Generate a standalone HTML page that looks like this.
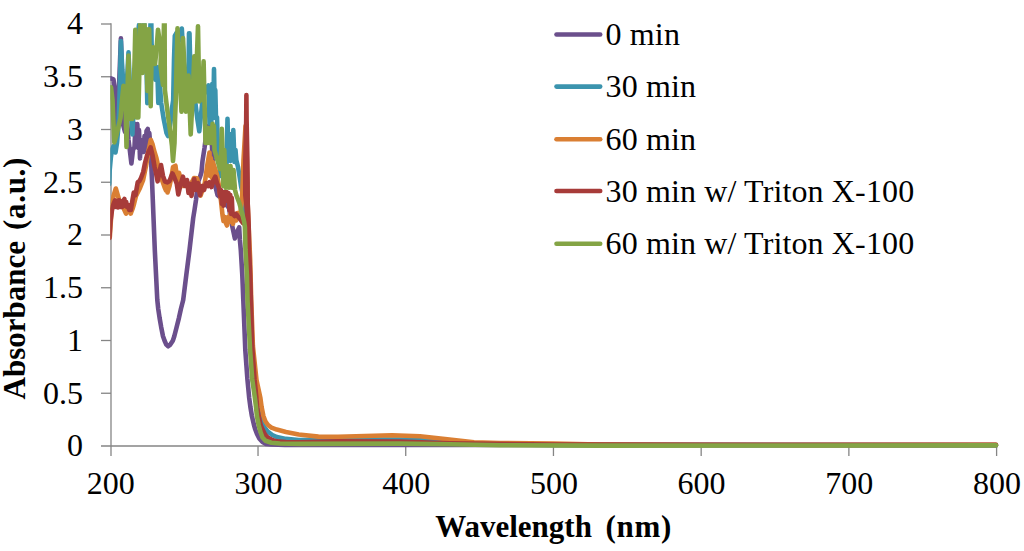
<!DOCTYPE html>
<html><head><meta charset="utf-8"><title>Absorbance vs Wavelength</title>
<style>
html,body{margin:0;padding:0;background:#fff;}
body{width:1024px;height:551px;overflow:hidden;position:relative;font-family:"Liberation Serif",serif;}
svg{position:absolute;left:0;top:0;display:block;}
text{font-family:"Liberation Serif",serif;fill:#000;}
.tk{font-size:32px;}
.ttl{font-size:31px;font-weight:bold;}
.ln{fill:none;stroke-width:4.6;stroke-linejoin:round;stroke-linecap:round;}
</style></head><body>
<svg width="1024" height="551" viewBox="0 0 1024 551">
<defs><clipPath id="plot"><rect x="110.3" y="23.3" width="900" height="430"/></clipPath></defs>
<rect x="0" y="0" width="1024" height="551" fill="#ffffff"/>

<g stroke="#858585" stroke-width="1.3" fill="none">
<line x1="111.0" y1="23.3" x2="111.0" y2="456.0"/>
<line x1="101.0" y1="446.0" x2="997.2" y2="446.0"/>
<line x1="101.0" y1="24.00" x2="111.0" y2="24.00"/>
<line x1="101.0" y1="76.75" x2="111.0" y2="76.75"/>
<line x1="101.0" y1="129.50" x2="111.0" y2="129.50"/>
<line x1="101.0" y1="182.25" x2="111.0" y2="182.25"/>
<line x1="101.0" y1="235.00" x2="111.0" y2="235.00"/>
<line x1="101.0" y1="287.75" x2="111.0" y2="287.75"/>
<line x1="101.0" y1="340.50" x2="111.0" y2="340.50"/>
<line x1="101.0" y1="393.25" x2="111.0" y2="393.25"/>
<line x1="258.02" y1="446.0" x2="258.02" y2="456.0"/>
<line x1="405.73" y1="446.0" x2="405.73" y2="456.0"/>
<line x1="553.45" y1="446.0" x2="553.45" y2="456.0"/>
<line x1="701.17" y1="446.0" x2="701.17" y2="456.0"/>
<line x1="848.88" y1="446.0" x2="848.88" y2="456.0"/>
<line x1="996.60" y1="446.0" x2="996.60" y2="456.0"/>
</g>
<g clip-path="url(#plot)">
<path class="ln" stroke="#6b4f8c" d="M111.00,78.50 L113.50,79.50 L115.00,90.00 L116.50,126.00 L118.50,100.00 L120.90,38.30 L122.30,80.00 L123.30,125.50 L125.00,132.00 L127.00,120.00 L128.50,140.00 L129.80,150.00 L131.40,163.50 L133.00,150.00 L134.50,147.00 L135.50,124.00 L136.50,145.00 L137.30,124.00 L138.30,148.00 L139.00,130.00 L140.00,158.40 L140.80,140.00 L141.60,146.00 L142.30,152.00 L143.00,144.00 L143.80,152.00 L144.50,136.00 L145.50,150.00 L146.50,131.00 L147.80,129.00 L148.50,150.00 L149.30,133.00 L150.30,145.00 L151.00,160.00 L152.00,180.00 L152.80,200.00 L154.80,250.00 L157.30,300.00 L158.25,309.00 L159.60,318.00 L161.20,327.20 L163.00,336.30 L164.60,340.80 L166.30,344.60 L168.20,346.30 L170.30,344.60 L172.80,340.80 L174.30,336.30 L176.60,327.20 L178.90,318.10 L180.90,309.00 L183.20,300.00 L186.30,275.00 L189.50,250.00 L193.20,218.00 L194.50,210.00 L196.00,200.00 L196.80,193.00 L198.50,181.00 L200.00,177.00 L201.50,172.00 L202.50,161.00 L204.50,148.00 L205.50,140.00 L206.50,128.00 L208.50,126.00 L210.50,130.00 L211.80,142.00 L212.50,158.00 L213.50,170.00 L215.00,180.00 L216.00,189.00 L217.50,195.00 L222.00,199.00 L229.00,208.00 L232.00,225.00 L234.90,238.40 L237.00,232.00 L239.20,227.40 L239.90,240.00 L240.80,250.00 L242.30,275.00 L243.30,300.00 L245.30,350.00 L247.40,379.00 L249.20,398.00 L250.40,407.00 L251.90,416.00 L254.00,425.00 L255.30,429.50 L257.00,434.00 L259.30,438.40 L262.50,442.00 L266.00,443.90 L271.40,444.50 L285.00,445.00 L400.00,445.00 L996.00,445.20"/>
<path class="ln" stroke="#3b94ae" d="M109.20,184.00 L109.70,170.00 L110.80,158.00 L112.00,150.00 L113.50,146.00 L115.50,152.50 L117.00,143.00 L118.50,125.00 L119.70,90.00 L120.90,41.00 L122.30,70.00 L124.00,90.00 L125.50,97.00 L127.00,80.00 L128.50,52.30 L130.50,100.00 L132.40,134.40 L134.50,90.00 L138.30,30.00 L139.80,20.00 L144.00,20.00 L146.30,60.00 L146.80,80.00 L147.30,103.20 L149.30,60.00 L150.80,15.00 L151.20,15.00 L151.60,45.00 L153.00,62.00 L155.30,79.70 L157.20,67.00 L158.30,103.00 L158.80,70.00 L161.20,103.00 L163.50,118.00 L166.50,133.00 L168.00,136.00 L170.50,122.00 L172.00,108.00 L173.20,100.00 L174.00,60.00 L174.80,36.00 L176.50,33.00 L179.00,40.00 L181.80,28.50 L183.30,55.00 L185.00,85.00 L187.50,88.00 L188.60,70.00 L189.00,33.20 L189.50,33.20 L190.00,55.00 L190.80,75.00 L192.00,85.00 L195.00,100.00 L197.50,120.00 L199.30,131.30 L201.00,115.00 L202.50,100.00 L205.00,90.00 L208.50,85.40 L209.50,123.50 L210.30,86.00 L211.30,122.00 L212.20,84.00 L213.20,118.00 L214.00,69.00 L214.80,112.00 L215.30,90.00 L216.00,118.00 L217.00,117.50 L218.00,150.00 L220.50,176.00 L222.00,165.00 L224.50,160.00 L226.50,165.00 L227.50,118.70 L228.50,160.00 L229.50,135.00 L230.60,161.00 L231.50,134.00 L232.30,160.00 L233.30,130.00 L234.50,162.00 L235.50,150.00 L236.30,160.00 L238.00,167.00 L239.60,176.70 L241.00,186.00 L243.00,195.00 L244.30,204.00 L246.00,230.00 L247.50,263.00 L250.00,330.00 L252.80,380.00 L255.80,398.00 L257.50,408.00 L259.50,416.00 L261.50,422.00 L264.50,427.50 L267.80,431.60 L272.30,435.00 L276.80,437.00 L286.00,438.90 L298.70,440.00 L340.00,439.60 L400.00,439.60 L430.00,440.50 L450.00,442.50 L500.00,444.50 L553.00,444.90 L996.00,445.30"/>
<path class="ln" stroke="#da7f33" d="M109.80,237.00 L111.30,214.00 L113.50,196.00 L115.80,188.50 L118.00,196.00 L120.00,203.00 L123.00,207.00 L126.00,213.60 L128.50,210.00 L130.70,213.60 L132.50,209.00 L134.00,204.00 L136.00,196.00 L140.00,188.00 L143.00,180.50 L146.00,166.00 L148.50,151.00 L150.80,139.80 L152.50,144.00 L154.00,150.30 L156.40,158.00 L158.50,167.50 L162.00,180.00 L164.50,187.00 L166.00,190.50 L166.80,186.00 L167.50,192.50 L169.50,186.00 L171.50,177.00 L173.00,167.00 L175.50,165.70 L177.00,178.00 L177.70,185.00 L179.00,172.80 L181.00,180.00 L183.00,186.00 L186.00,184.00 L189.00,186.00 L192.00,182.00 L194.00,178.00 L197.00,178.30 L199.00,186.00 L200.50,195.70 L202.50,190.00 L204.80,183.00 L207.00,167.00 L209.50,152.50 L210.00,176.00 L210.80,158.00 L212.00,178.00 L212.80,162.00 L214.50,167.00 L217.00,175.00 L219.00,186.00 L221.00,201.00 L222.50,215.00 L223.50,221.00 L224.50,217.00 L225.50,222.00 L227.00,225.50 L228.00,217.00 L229.00,222.00 L230.00,214.00 L231.00,222.00 L232.00,215.00 L233.00,224.00 L234.50,214.00 L236.00,220.50 L237.50,213.00 L239.00,218.00 L240.50,212.00 L242.00,200.00 L242.60,185.00 L243.50,160.00 L245.00,135.00 L245.50,126.00 L246.50,150.00 L247.50,200.00 L250.20,260.00 L251.20,300.00 L252.90,346.00 L256.50,380.00 L260.40,398.00 L261.60,407.00 L263.40,416.00 L265.50,421.50 L268.00,425.00 L271.40,427.60 L276.80,429.60 L286.00,432.00 L298.70,434.55 L318.40,436.60 L338.00,436.80 L365.00,436.00 L392.00,435.20 L420.00,436.20 L445.00,439.00 L474.00,442.30 L500.00,443.00 L553.00,443.60 L600.00,444.60 L700.00,445.00 L800.00,445.10 L996.00,444.80"/>
<path class="ln" stroke="#a73b39" d="M109.40,238.00 L110.40,222.00 L112.00,210.00 L113.50,204.00 L115.00,200.30 L116.00,207.00 L117.00,201.00 L118.00,207.50 L119.00,200.30 L120.00,207.00 L121.00,201.50 L122.00,207.00 L123.00,201.00 L124.40,199.00 L125.30,206.00 L126.20,202.00 L127.20,207.00 L128.30,206.50 L129.20,210.00 L130.00,205.00 L130.80,210.00 L131.40,206.50 L132.50,200.00 L133.80,192.50 L135.50,195.00 L137.70,182.30 L139.30,181.30 L141.00,178.00 L143.20,172.00 L145.00,163.00 L147.00,155.60 L148.50,152.00 L150.60,147.40 L152.50,155.00 L154.50,166.50 L156.00,173.00 L157.60,181.30 L159.50,172.00 L161.00,165.00 L163.00,176.00 L165.00,181.50 L167.40,182.40 L169.50,181.00 L171.00,177.00 L172.50,173.50 L174.50,178.00 L176.75,183.70 L178.30,194.50 L180.50,185.00 L183.00,176.70 L185.00,186.00 L187.00,180.00 L188.50,193.00 L190.00,184.00 L191.50,196.00 L193.00,186.00 L194.25,179.00 L196.00,190.00 L198.00,183.00 L200.00,195.00 L202.00,186.00 L204.00,190.00 L206.00,183.00 L208.00,186.00 L209.50,182.20 L211.50,187.00 L213.50,180.00 L215.30,176.70 L217.00,183.00 L219.00,188.00 L220.00,196.00 L221.00,190.00 L222.00,204.00 L223.00,192.00 L223.50,205.70 L224.50,192.00 L225.50,201.00 L226.50,192.00 L227.50,201.00 L228.50,193.00 L229.50,210.00 L230.30,195.00 L231.20,214.00 L231.80,198.00 L232.50,213.00 L234.50,216.00 L236.00,214.00 L237.50,216.00 L240.00,219.00 L243.00,223.00 L245.50,224.00 L247.00,215.00 L246.30,204.00 L245.30,195.00 L245.30,160.00 L245.80,140.00 L246.20,120.00 L246.40,95.10 L246.60,120.00 L247.00,140.00 L247.40,160.00 L247.60,180.00 L247.70,203.00 L248.65,225.00 L249.10,250.00 L250.20,275.00 L250.90,300.00 L252.20,346.00 L254.60,380.00 L256.40,398.00 L257.10,407.10 L258.65,416.10 L260.70,425.20 L262.70,429.80 L265.00,434.50 L267.80,437.50 L272.30,440.00 L276.80,441.40 L286.00,442.10 L298.70,442.20 L338.00,441.30 L400.00,441.60 L450.00,443.20 L553.00,444.50 L996.00,444.90"/>
<path class="ln" stroke="#84a445" d="M111.00,87.30 L112.50,100.00 L114.30,142.40 L116.50,135.00 L120.50,118.00 L122.00,100.00 L123.50,85.70 L125.30,90.00 L126.50,147.00 L127.50,90.00 L128.50,55.50 L129.50,110.00 L130.50,119.00 L131.20,82.00 L132.20,119.00 L133.30,100.00 L134.60,60.00 L135.30,29.70 L136.00,60.00 L136.60,117.50 L137.30,60.00 L138.30,117.50 L139.60,60.00 L140.40,20.00 L141.50,20.00 L142.50,73.00 L143.30,20.00 L144.40,20.00 L145.30,60.00 L146.20,29.30 L147.40,91.00 L148.50,29.30 L149.20,29.30 L150.70,106.30 L151.50,60.00 L153.30,47.30 L155.00,64.00 L156.50,50.00 L158.00,29.70 L159.50,40.00 L161.30,43.00 L160.50,66.00 L163.00,85.00 L163.60,41.00 L164.20,15.00 L164.60,15.00 L164.70,60.00 L164.90,90.00 L166.20,101.00 L168.30,118.00 L170.60,135.00 L172.00,146.00 L173.00,161.00 L174.50,143.00 L175.00,120.00 L175.80,100.00 L176.70,60.00 L177.50,28.20 L179.50,70.00 L181.50,111.70 L182.30,70.00 L183.00,38.00 L185.00,80.00 L186.00,111.70 L187.50,90.00 L188.50,75.60 L190.70,134.40 L192.50,100.00 L194.25,56.30 L195.30,101.50 L196.80,60.00 L198.00,26.20 L199.30,101.50 L200.50,70.00 L201.80,100.00 L203.60,61.40 L204.50,100.00 L205.50,143.00 L206.50,128.00 L207.50,143.00 L208.50,128.00 L209.50,143.00 L210.50,130.00 L211.50,143.00 L212.60,123.80 L213.60,140.00 L213.90,126.00 L214.50,150.00 L217.30,160.00 L220.00,169.00 L221.30,150.00 L221.80,128.90 L222.80,160.00 L223.30,186.00 L224.30,150.00 L225.80,187.80 L227.50,166.00 L229.00,187.80 L230.50,166.00 L232.00,187.80 L233.50,170.00 L235.00,190.00 L236.30,195.00 L239.30,203.00 L242.30,214.00 L244.20,222.00 L244.90,227.00 L245.50,250.00 L246.90,275.00 L247.50,300.00 L250.10,350.00 L252.20,379.00 L254.90,398.00 L256.00,407.00 L256.90,416.00 L258.70,425.20 L260.30,431.50 L262.50,437.50 L265.50,440.80 L271.40,442.70 L280.00,443.50 L298.70,443.90 L400.00,443.60 L450.00,444.30 L500.00,445.20 L600.00,445.60 L800.00,445.50 L996.00,445.40"/>
</g>
<text class="tk" x="83" y="34.40" text-anchor="end">4</text>
<text class="tk" x="83" y="87.15" text-anchor="end">3.5</text>
<text class="tk" x="83" y="139.90" text-anchor="end">3</text>
<text class="tk" x="83" y="192.65" text-anchor="end">2.5</text>
<text class="tk" x="83" y="245.40" text-anchor="end">2</text>
<text class="tk" x="83" y="298.15" text-anchor="end">1.5</text>
<text class="tk" x="83" y="350.90" text-anchor="end">1</text>
<text class="tk" x="83" y="403.65" text-anchor="end">0.5</text>
<text class="tk" x="83" y="456.40" text-anchor="end">0</text>
<text class="tk" x="110.80" y="493.7" text-anchor="middle">200</text>
<text class="tk" x="258.50" y="493.7" text-anchor="middle">300</text>
<text class="tk" x="406.20" y="493.7" text-anchor="middle">400</text>
<text class="tk" x="553.90" y="493.7" text-anchor="middle">500</text>
<text class="tk" x="701.60" y="493.7" text-anchor="middle">600</text>
<text class="tk" x="849.30" y="493.7" text-anchor="middle">700</text>
<text class="tk" x="997.00" y="493.7" text-anchor="middle">800</text>
<text class="ttl" x="435.2" y="537.3">Wavelength</text>
<text class="ttl" x="605.6" y="537.3" letter-spacing="0.7">(nm)</text>
<text class="ttl" transform="translate(25,399.5) rotate(-90)">Absorbance</text>
<text class="ttl" transform="translate(25,230) rotate(-90)" letter-spacing="0.7">(a.u.)</text>
<line x1="556.5" y1="34.5" x2="600.2" y2="34.5" stroke="#6b4f8c" stroke-width="4.6" stroke-linecap="round"/>
<text class="tk" x="605.6" y="44.9" letter-spacing="0.13">0 min</text>
<line x1="556.5" y1="86.6" x2="600.2" y2="86.6" stroke="#3b94ae" stroke-width="4.6" stroke-linecap="round"/>
<text class="tk" x="605.6" y="97.4" letter-spacing="0.13">30 min</text>
<line x1="556.5" y1="139.2" x2="600.2" y2="139.2" stroke="#da7f33" stroke-width="4.6" stroke-linecap="round"/>
<text class="tk" x="605.6" y="149.6" letter-spacing="0.13">60 min</text>
<line x1="556.5" y1="191.0" x2="600.2" y2="191.0" stroke="#a73b39" stroke-width="4.6" stroke-linecap="round"/>
<text class="tk" x="605.6" y="202.4" letter-spacing="0.13">30 min w/ Triton X-100</text>
<line x1="556.5" y1="243.8" x2="600.2" y2="243.8" stroke="#84a445" stroke-width="4.6" stroke-linecap="round"/>
<text class="tk" x="605.6" y="254.2" letter-spacing="0.13">60 min w/ Triton X-100</text>
</svg></body></html>
